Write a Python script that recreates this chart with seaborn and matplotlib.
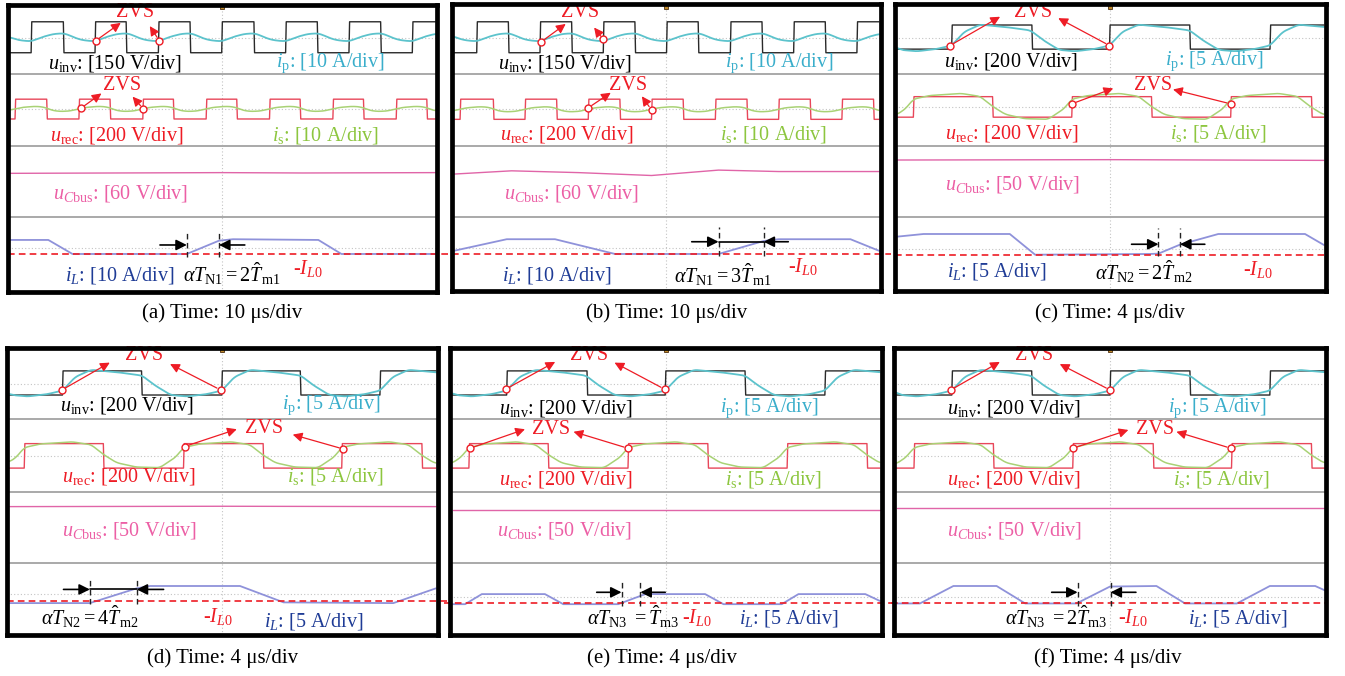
import numpy as np
import matplotlib
matplotlib.use("Agg")
import matplotlib.pyplot as plt
import seaborn as sns

sns.set_theme(style="white")
plt.rcParams['font.family'] = ['Liberation Serif', 'DejaVu Serif']
plt.rcParams['mathtext.fontset'] = 'custom'
plt.rcParams['mathtext.rm'] = 'Liberation Serif'
plt.rcParams['mathtext.it'] = 'Liberation Serif:italic'
plt.rcParams['mathtext.bf'] = 'Liberation Serif:bold'

# ------------------------------------------------------------------ data
CAPTIONS = ["(a) Time: 10 μs/div", "(b) Time: 10 μs/div", "(c) Time: 4 μs/div",
            "(d) Time: 4 μs/div", "(e) Time: 4 μs/div", "(f) Time: 4 μs/div"]
UINV_SCALE = ["150 V/div", "150 V/div", "200 V/div", "200 V/div", "200 V/div", "200 V/div"]
IP_SCALE = ["10 A/div", "10 A/div", "5 A/div", "5 A/div", "5 A/div", "5 A/div"]
UREC_SCALE = ["200 V/div"] * 6
IS_SCALE = ["10 A/div", "10 A/div", "5 A/div", "5 A/div", "5 A/div", "5 A/div"]
UCBUS_SCALE = ["60 V/div", "60 V/div", "50 V/div", "50 V/div", "50 V/div", "50 V/div"]
IL_SCALE = ["10 A/div", "10 A/div", "5 A/div", "5 A/div", "5 A/div", "5 A/div"]
ALPHA_TEXT = [r"$\alpha T_{\mathrm{N1}} = 2\hat{T}_{\mathrm{m1}}$",
              r"$\alpha T_{\mathrm{N1}} = 3\hat{T}_{\mathrm{m1}}$",
              r"$\alpha T_{\mathrm{N2}} = 2\hat{T}_{\mathrm{m2}}$",
              r"$\alpha T_{\mathrm{N2}} = 4\hat{T}_{\mathrm{m2}}$",
              r"$\alpha T_{\mathrm{N3}}\ {=}\hat{T}_{\mathrm{m3}}$",
              r"$\alpha T_{\mathrm{N3}}\ {=}2\hat{T}_{\mathrm{m3}}$"]

# switching edges (time in divisions)
UINV_RISE = [[0.44, 1.63, 2.81, 3.99, 5.18, 6.36, 7.54],
             [0.47, 1.65, 2.83, 4.01, 5.20, 6.38, 7.56],
             [1.06, 3.99, 6.97], [1.03, 3.99, 6.93], [1.05, 3.99, 6.95], [1.07, 4.00, 6.96]]
UINV_FALL = [[1.04, 2.21, 3.40, 4.59, 5.77, 6.95],
             [1.06, 2.24, 3.42, 4.60, 5.79, 6.97],
             [2.55, 5.48], [2.50, 5.45], [2.54, 5.47], [2.55, 5.48]]
UINV_HI = [0.46, 0.46, 0.37, 0.35, 0.35, 0.35]
UINV_LO = [-0.40, -0.40, -0.30, -0.32, -0.32, -0.32]

UREC_RISE = [[0.14, 1.33, 2.52, 3.70, 4.88, 6.06, 7.24],
             [0.16, 1.37, 2.55, 3.73, 4.92, 6.10, 7.28],
             [0.35, 3.29, 6.24], [0.32, 3.28, 6.22], [0.35, 3.30, 6.25], [0.37, 3.31, 6.25]]
UREC_FALL = [[0.73, 1.91, 3.09, 4.27, 5.45, 6.63, 7.81],
             [0.78, 1.96, 3.14, 4.32, 5.51, 6.69, 7.87],
             [1.82, 4.77, 7.74], [1.79, 4.76, 7.71], [1.82, 4.78, 7.73], [1.84, 4.80, 7.73]]
UREC_HI = [0.27, 0.28, 0.29, 0.33, 0.33, 0.33]
UREC_LO = [-0.28, -0.28, -0.28, -0.35, -0.35, -0.35]

# one switching period of the currents (phase from rising edge, value in div)
IP_PHASE = [0, 0.08, 0.18, 0.35, 0.5, 0.58, 0.68, 0.78, 0.9, 1.0]
IP_VALUES = [[-0.08, -0.03, 0.04, 0.12, 0.14, 0.10, 0.02, -0.04, -0.07, -0.08]] * 2 + \
            [[-0.20, 0.18, 0.38, 0.31, 0.22, -0.05, -0.32, -0.36, -0.30, -0.20]] * 4
IS_PHASE = [0, 0.1, 0.3, 0.42, 0.5, 0.58, 0.7, 0.85, 0.95, 1.0]
IS_VALUES = [[0.0, 0.04, 0.07, 0.06, 0.02, -0.04, -0.07, -0.06, -0.02, 0.0]] * 2 + \
            [[0.22, 0.32, 0.38, 0.30, 0.02, -0.20, -0.32, -0.34, -0.05, 0.22]] * 4

UCBUS_T = [[0.05, 2.0, 4.0, 5.5, 7.97],
           [0.05, 1.12, 2.37, 3.73, 4.98, 6.10, 7.97],
           [0.05, 4.0, 7.97], [0.05, 4.0, 7.97], [0.05, 4.0, 7.97], [0.05, 4.0, 7.97]]
UCBUS_V = [[0.0, 0.01, 0.02, 0.01, 0.02],
           [-0.02, 0.07, 0.02, -0.06, 0.09, 0.05, 0.05],
           [0.0, 0.01, -0.01], [0.0, 0.01, 0.0], [0.0, 0.0, 0.0], [0.0, 0.0, 0.0]]

IL_T = [[0.05, 0.76, 1.21, 3.34, 3.94, 4.20, 5.79, 6.22, 7.97],
        [0.05, 1.03, 1.93, 3.05, 4.98, 5.82, 6.10, 7.44, 7.97],
        [0.04, 0.54, 2.14, 2.61, 4.74, 4.90, 5.30, 6.01, 7.62, 7.97],
        [0.05, 1.54, 2.41, 2.66, 4.33, 5.14, 7.18, 7.97],
        [0.03, 0.28, 0.59, 1.76, 2.10, 3.12, 3.62, 4.73, 5.07, 6.15, 6.46, 7.70, 7.97],
        [0.05, 0.48, 1.10, 1.90, 2.43, 3.38, 4.00, 4.86, 5.39, 6.35, 6.96, 7.80, 7.97]]
IL_V = [[0.40, 0.40, 0.01, 0.01, 0.38, 0.42, 0.40, 0.01, 0.01],
        [0.09, 0.41, 0.41, 0.0, 0.0, 0.36, 0.41, 0.41, 0.09],
        [0.51, 0.585, 0.585, 0.01, 0.03, 0.04, 0.29, 0.585, 0.585, 0.28],
        [-0.07, -0.07, 0.34, 0.405, 0.405, -0.05, -0.07, 0.34],
        [-0.02, -0.02, 0.26, 0.26, -0.02, -0.02, 0.26, 0.26, -0.02, -0.02, 0.26, 0.26, 0.07],
        [0, 0, 0.485, 0.485, 0, 0, 0.47, 0.485, 0, 0, 0.485, 0.485, 0.37]]

# ------------------------------------------------------------------ layout
W, H = 1345, 676
BOXES = [(7.5, 4.5, 437, 292), (451.5, 4.5, 880.5, 291), (894.5, 4.5, 1325.5, 291),
         (7, 347.5, 437.5, 635), (450, 347.5, 881.5, 634.5), (894, 347.5, 1326, 635)]
CAP_POS = [(222, 313), (667, 313), (1110, 313), (223, 658), (662, 658), (1108, 658)]
SEPS = [[6.08, 4.08, 2.10]] * 3 + [[6.01, 4.0, 2.01]] * 3
OFF_TOP = [7.06, 7.06, 7.06, 7.0, 7.0, 7.0]
OFF_MID = [5.10, 5.09, 5.15, 5.0, 5.0, 5.0]
OFF_BUS = [3.31, 3.31, 3.68, 3.58, 3.50, 3.53]
OFF_IL = [1.06, 1.07, 1.04, 0.97, 0.89, 0.89]
IL0_SPAN = [(0, 8.2), (0, 8.2), (0, 7.98), (0, 8.2), (-0.12, 8.25), (-0.05, 7.98)]

UINV_LBL = [(0.76, 6.37), (0.87, 6.37), (0.91, 6.41), (0.99, 6.40), (0.90, 6.31), (0.98, 6.31)]
IP_LBL = [(5.01, 6.37), (5.10, 6.37), (5.02, 6.41), (5.11, 6.40), (5.01, 6.31), (5.08, 6.31)]
UREC_LBL = [(0.79, 4.375), (0.90, 4.40), (0.94, 4.42), (1.02, 4.41), (0.90, 4.32), (0.98, 4.32)]
IS_LBL = [(4.92, 4.375), (5.01, 4.40), (5.11, 4.42), (5.20, 4.41), (5.10, 4.32), (5.17, 4.32)]
UCBUS_LBL = [(0.85, 2.76), (0.97, 2.76), (0.94, 2.99), (1.03, 2.91), (0.88, 2.91), (0.98, 2.93)]
IL_LBL = [(1.07, 0.46), (0.94, 0.46), (0.97, 0.58), (4.77, 0.40), (5.35, 0.48), (5.45, 0.48)]
ALPHA_LBL = [(3.26, 0.53), (4.14, 0.49), (3.72, 0.58), (0.64, 0.52), (2.54, 0.52), (2.06, 0.52)]
IL0_LBL = [(5.32, 0.68), (6.28, 0.72), (6.47, 0.63), (3.65, 0.52), (4.30, 0.50), (4.14, 0.50)]

ZVS_TOP = [(2.37, 7.77), (2.40, 7.77), (2.58, 7.77), (2.55, 7.79), (2.57, 7.79), (2.59, 7.79)]
ZVS_TOP_ARROWS = [[((1.64, 6.99), (2.11, 7.49)), ((2.83, 6.99), (2.65, 7.40))],
                  [((1.66, 6.95), (2.13, 7.46)), ((2.83, 7.03), (2.66, 7.36))],
                  [((1.03, 6.86), (1.96, 7.66)), ((3.99, 6.86), (3.04, 7.62))],
                  [((1.02, 6.82), (1.91, 7.58)), ((3.97, 6.82), (3.03, 7.54))],
                  [((1.03, 6.84), (1.95, 7.60)), ((3.98, 6.84), (3.05, 7.58))],
                  [((1.05, 6.82), (1.96, 7.60)), ((4.00, 6.82), (3.07, 7.54))]]
ZVS_MID = [(2.13, 5.74), (3.30, 5.76), (4.80, 5.76), (4.78, 5.76), (1.87, 5.71), (4.83, 5.73)]
ZVS_MID_ARROWS = [[((1.37, 5.12), (1.75, 5.53)), ((2.53, 5.10), (2.33, 5.44))],
                  [((2.55, 5.13), (2.97, 5.55)), ((3.73, 5.07), (3.55, 5.45))],
                  [((3.29, 5.24), (4.06, 5.67)), ((6.24, 5.24), (5.17, 5.64))],
                  [((3.30, 5.25), (4.27, 5.73)), ((6.25, 5.18), (5.31, 5.58))],
                  [((0.37, 5.20), (1.39, 5.73)), ((3.30, 5.20), (2.29, 5.66))],
                  [((3.31, 5.20), (4.34, 5.71)), ((6.24, 5.20), (5.23, 5.66))]]

MEAS_X = [(3.34, 3.94), (4.98, 5.82), (4.90, 5.30), (1.54, 2.41), (3.18, 3.53), (3.40, 4.01)]
MEAS_YSPAN = [(0.99, 1.74), (1.0, 1.83), (1.0, 1.80), (0.87, 1.63), (0.81, 1.57), (0.81, 1.57)]
MEAS_ARROW_Y = [1.32, 1.41, 1.34, 1.28, 1.20, 1.20]
MEAS_OUTER = [(2.84, 4.42), (4.48, 6.28), (4.40, 5.76), (1.05, 2.91), (2.72, 3.99), (2.92, 4.48)]
MEAS_MIDLINE = [False, True, False, True, False, False]

# ------------------------------------------------------------------ styles
C_UINV, C_IP, C_UREC, C_IS, C_BUS, C_IL = "#2a2a2a", "#5cc3cc", "#e8475a", "#a9d275", "#e065a8", "#8f92da"
T_IP, T_UREC, T_IS, T_BUS, T_IL, RED = "#3aaecb", "#ee1c25", "#8dc63f", "#ec5fa5", "#1f3c96", "#ee1c25"
FS = 14.5


def square(rise, fall, hi, lo, x0=0.04, x1=7.97, eps=0.012):
    edges = sorted([(t, 1) for t in rise] + [(t, 0) for t in fall])
    level = lo if edges[0][1] == 1 else hi
    xs, ys = [x0], [level]
    for t, kind in edges:
        new = hi if kind == 1 else lo
        xs += [t, t + eps]
        ys += [level, new]
        level = new
    xs.append(x1)
    ys.append(level)
    return np.array(xs), np.array(ys)


def periodic(rise, phase, vals, x0=0.04, x1=7.97, n=1200):
    r = np.asarray(rise, float)
    per = np.mean(np.diff(r))
    e = np.concatenate([[r[0] - 2 * per, r[0] - per], r, [r[-1] + per, r[-1] + 2 * per]])
    t = np.linspace(x0, x1, n)
    k = np.searchsorted(e, t, side='right')
    ph = (t - e[k - 1]) / (e[k] - e[k - 1])
    v = np.interp(ph, phase, vals)
    m = 21
    v = np.convolve(np.pad(v, m // 2, mode='edge'), np.ones(m) / m, mode='valid')
    return t, v


def trace(ax, x, y, color, lw):
    sns.lineplot(x=x, y=y, ax=ax, color=color, lw=lw, estimator=None, sort=False, legend=False)


fig = plt.figure(figsize=(W / 100, H / 100), dpi=100)

for i in range(6):
    l, t, r, b = BOXES[i]
    ax = fig.add_axes([l / W, 1 - b / H, (r - l) / W, (b - t) / H])
    ax.set_xlim(0, 8)
    ax.set_ylim(8 - (b - t) / 36.0, 8)
    ax.set_xticks([])
    ax.set_yticks([])
    for s in ax.spines.values():
        s.set_color("black")
        s.set_linewidth(3.4)
        s.set_zorder(10)

    # grid / separators
    for ys in SEPS[i]:
        ax.axhline(ys, color="#a9a9a9", lw=1.4, zorder=1)
    dot = dict(color="#c4c4c4", lw=0.8, ls=(0, (1, 2)), zorder=0.5)
    ax.axvline(4.0, **dot)
    ax.axhline(OFF_TOP[i], **dot)
    ax.axhline(OFF_MID[i], **dot)
    ax.axhline(OFF_IL[i] + 0.17, **dot)
    ax.plot([4.0], [7.93], marker="s", ms=3.5, color="#c08a2a", mec="#503010", mew=0.6, zorder=6)

    # traces
    x, y = square(UINV_RISE[i], UINV_FALL[i], UINV_HI[i], UINV_LO[i])
    trace(ax, x, y + OFF_TOP[i], C_UINV, 1.0)
    x, y = periodic(UINV_RISE[i], IP_PHASE, IP_VALUES[i])
    trace(ax, x, y + OFF_TOP[i], C_IP, 1.3)
    x, y = square(UREC_RISE[i], UREC_FALL[i], UREC_HI[i], UREC_LO[i])
    trace(ax, x, y + OFF_MID[i], C_UREC, 1.0)
    x, y = periodic(UREC_RISE[i], IS_PHASE, IS_VALUES[i])
    trace(ax, x, y + OFF_MID[i], C_IS, 1.1)
    trace(ax, np.array(UCBUS_T[i]), np.array(UCBUS_V[i]) + OFF_BUS[i], C_BUS, 1.0)
    trace(ax, np.array(IL_T[i]), np.array(IL_V[i]) + OFF_IL[i], C_IL, 1.3)

    # -I_L0 reference
    x0, x1 = IL0_SPAN[i]
    ax.plot([x0, x1], [OFF_IL[i], OFF_IL[i]], color=RED, lw=1.2, ls=(0, (4, 2.5)), clip_on=False, zorder=4)

    # labels
    kw = dict(fontsize=FS, va="center", ha="left", zorder=8)
    ax.text(*UINV_LBL[i], r"$u_{\mathrm{inv}}$: [" + UINV_SCALE[i] + "]", color="black", **kw)
    ax.text(*IP_LBL[i], r"$i_{\mathrm{p}}$: [" + IP_SCALE[i] + "]", color=T_IP, **kw)
    ax.text(*UREC_LBL[i], r"$u_{\mathrm{rec}}$: [" + UREC_SCALE[i] + "]", color=T_UREC, **kw)
    ax.text(*IS_LBL[i], r"$i_{\mathrm{s}}$: [" + IS_SCALE[i] + "]", color=T_IS, **kw)
    ax.text(*UCBUS_LBL[i], r"$u_{C\mathrm{bus}}$: [" + UCBUS_SCALE[i] + "]", color=T_BUS, **kw)
    ax.text(*IL_LBL[i], r"$i_{L}$: [" + IL_SCALE[i] + "]", color=T_IL, **kw)
    ax.text(*ALPHA_LBL[i], ALPHA_TEXT[i], color="black", **kw)
    ax.text(*IL0_LBL[i], r"-$I_{L0}$", color=RED, **kw)

    # ZVS annotations
    for (txt_pos, arrows) in ((ZVS_TOP[i], ZVS_TOP_ARROWS[i]), (ZVS_MID[i], ZVS_MID_ARROWS[i])):
        ax.text(*txt_pos, "ZVS", color=RED, fontsize=FS, ha="center", va="center", zorder=8)
        for (c, tip) in arrows:
            ax.annotate("", xy=tip, xytext=c,
                        arrowprops=dict(arrowstyle="-|>", color=RED, lw=0.9,
                                        mutation_scale=14, shrinkA=3, shrinkB=0), zorder=7)
            ax.plot([c[0]], [c[1]], marker="o", ms=5, mfc="white", mec=RED, mew=1.0, zorder=9)

    # alpha*T measurement
    xa, xb = MEAS_X[i]
    y0, y1 = MEAS_YSPAN[i]
    for xv in (xa, xb):
        ax.plot([xv, xv], [y0, y1], color="#222222", lw=1.0, ls=(0, (4, 2.5)), zorder=5)
    ya = MEAS_ARROW_Y[i]
    ol, orr = MEAS_OUTER[i]
    arrow_kw = dict(arrowstyle="-|>", color="black", lw=1.2, mutation_scale=16, shrinkA=0, shrinkB=0)
    ax.annotate("", xy=(xa, ya), xytext=(ol, ya), arrowprops=arrow_kw, zorder=6)
    ax.annotate("", xy=(xb, ya), xytext=(orr, ya), arrowprops=arrow_kw, zorder=6)
    if MEAS_MIDLINE[i]:
        ax.plot([xa, xb], [ya, ya], color="black", lw=1.2, zorder=6)

    # caption
    cx, cy = CAP_POS[i]
    fig.text(cx / W, 1 - cy / H, CAPTIONS[i], fontsize=15, ha="center", va="center", color="black")

fig.savefig("out.png", dpi=100, facecolor="white")
